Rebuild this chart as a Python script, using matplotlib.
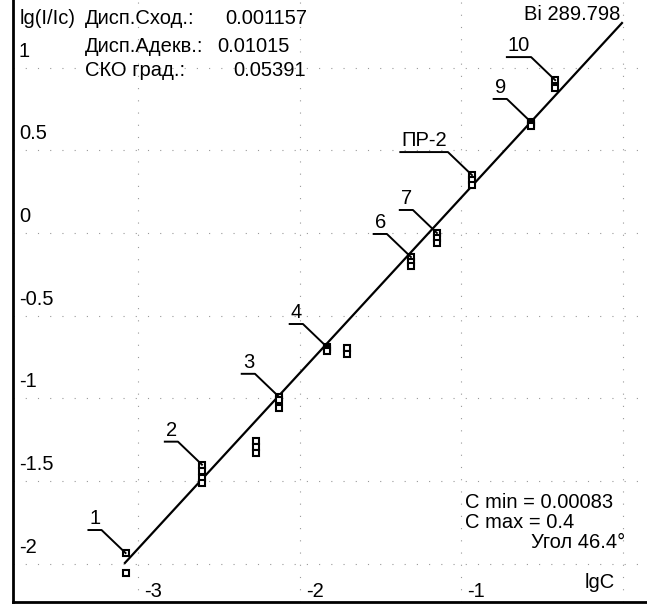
import numpy as np
import matplotlib.pyplot as plt
from matplotlib.transforms import offset_copy, IdentityTransform
from matplotlib.lines import Line2D

plt.rcParams['font.family'] = ['Liberation Sans', 'DejaVu Sans']
FS = 14.5

# calibration samples: lgC and the replicate lg(I/Ic) values
sample_names = ['1', '2', '3', '4', '6', '7', 'ПР-2', '9', '10']
sample_x = [-3.08, -2.607, -2.130, -1.833, -1.313, -1.152, -0.935, -0.570, -0.42]
sample_y = [
    [-1.934, -2.054],
    [-1.40, -1.44, -1.48, -1.51],
    [-0.99, -1.01, -1.06],
    [-0.689, -0.701, -0.713],
    [-0.145, -0.175, -0.199],
    [0.0, -0.03, -0.06],
    [0.35, 0.32, 0.29],
    [0.671, 0.659, 0.647],
    [0.924, 0.876],
]

# rejected replicates (off the line)
rejected_x = [-2.272, -2.272, -2.272, -1.709, -1.709]
rejected_y = [-1.257, -1.293, -1.329, -0.695, -0.731]

# graduation line
line_x = [-3.084, -0.006]
line_y = [-1.994, 1.269]

grid_x = [-3, -2, -1, 0]
grid_y = [-2, -1.5, -1, -0.5, 0, 0.5, 1]
xtick_labels = ['-3', '-2', '-1']
ytick_labels = ['-2', '-1.5', '-1', '-0.5', '0', '0.5', '1']

stats_names = ['Дисп.Сход.:', 'Дисп.Адекв.:', 'СКО град.:']
stats_values = ['0.001157', '0.01015', '0.05391']
element = 'Bi 289.798'
c_min = 0.00083
c_max = 0.4
angle = 46.4

W, H = 647, 604
fig = plt.figure(figsize=(W / 100, H / 100), dpi=100)
ax = fig.add_axes([13 / W, 2 / H, (W - 13) / W, 602 / H])
ax.set_xlim(-3.777, 0.149)
ax.set_ylim(-2.230, 1.408)
for s in ['top', 'right']:
    ax.spines[s].set_visible(False)
ax.spines['left'].set_linewidth(2)
ax.spines['bottom'].set_linewidth(2)
ax.set_xticks([])
ax.set_yticks([])

# dotted grid (very faint in the original scan)
for gx in grid_x:
    ax.axvline(gx, color='0.6', lw=0.8, ls=(0, (1, 10)), zorder=0)
for gy in grid_y:
    ax.axhline(gy, color='0.6', lw=0.8, ls=(0, (1, 10)), zorder=0)

# tick labels sit inside the plot, next to the grid lines
ytr = offset_copy(ax.get_yaxis_transform(), fig=fig, x=6, y=7, units='dots')
for gy, lab in zip(grid_y, ytick_labels):
    ax.text(0, gy, lab, transform=ytr, fontsize=FS, ha='left', va='bottom')
xtr = offset_copy(ax.get_xaxis_transform(), fig=fig, x=6, y=1, units='dots')
for gx, lab in zip(grid_x, xtick_labels):
    ax.text(gx, 0, lab, transform=xtr, fontsize=FS, ha='left', va='bottom')

ax.plot(line_x, line_y, color='black', lw=1.6, zorder=2)

for x, ys in zip(sample_x, sample_y):
    ax.plot([x] * len(ys), ys, ls='none', marker='s', ms=4.3, mfc='white',
            mec='black', mew=1.5, zorder=3)
ax.plot(rejected_x, rejected_y, ls='none', marker='s', ms=4.3, mfc='white',
        mec='black', mew=1.5, zorder=3)

# sample labels with leader lines
fig.canvas.draw()
renderer = fig.canvas.get_renderer()
for name, x, ys in zip(sample_names, sample_x, sample_y):
    px, py = ax.transData.transform((x, max(ys)))
    ex, ey = px - 24, py + 23
    t = fig.text(0, 0, name, fontsize=FS, ha='left', va='bottom',
                 transform=IdentityTransform())
    w = t.get_window_extent(renderer).width
    t.set_position((ex - w - 1, ey + 2))
    fig.add_artist(Line2D([ex - w - 2, ex, px], [ey, ey, py], color='black',
                          lw=1.4, transform=IdentityTransform()))

def ftext(x, y, s, **kw):
    fig.text(x / W, 1 - y / H, s, fontsize=FS, va='center', **kw)

ftext(20, 18, 'lg(I/Ic)')
rows_y = [18, 46, 70]
vals_x = [225, 217, 233]
for name, val, ry, vx in zip(stats_names, stats_values, rows_y, vals_x):
    ftext(85, ry, name)
    ftext(vx, ry, val)
ftext(620, 15, element, ha='right')
ftext(465, 502, f'C min = {c_min}')
ftext(465, 523, f'C max = {c_max}')
ftext(625, 543, f'Угол {angle}°', ha='right')
ftext(585, 583, 'lgC')

fig.savefig('out.png', dpi=100)
